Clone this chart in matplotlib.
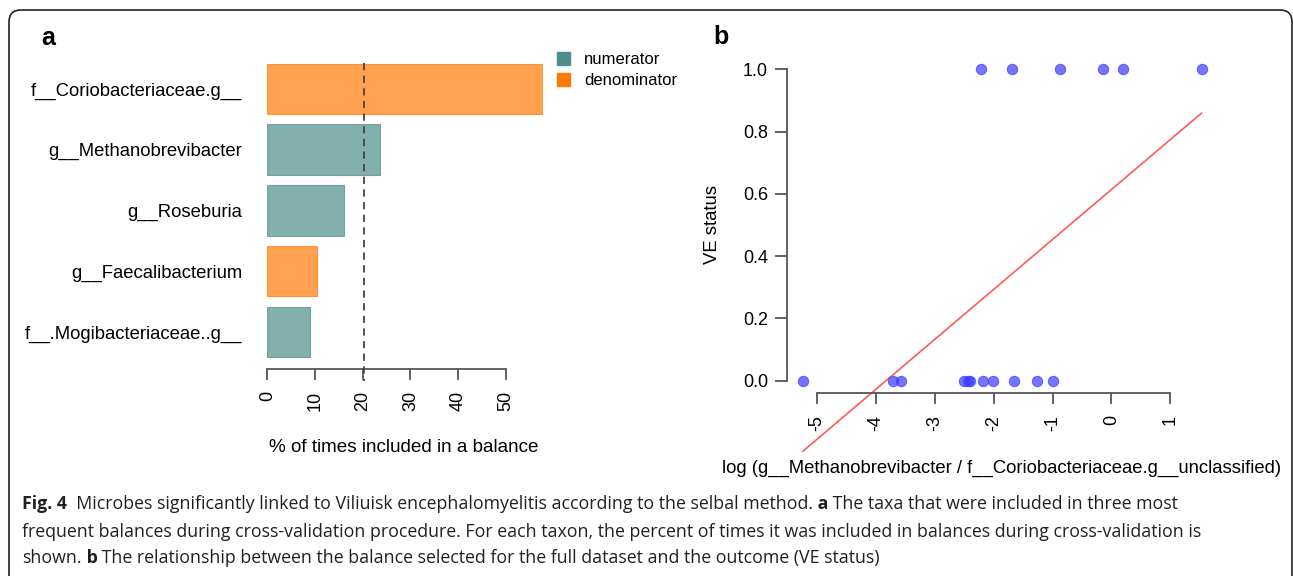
import matplotlib
matplotlib.use('Agg')
import matplotlib.pyplot as plt
import numpy as np
from matplotlib.patches import Patch, FancyBboxPatch
from matplotlib.transforms import IdentityTransform

plt.rcParams['font.family'] = ['Liberation Sans', 'DejaVu Sans']
plt.rcParams['axes.unicode_minus'] = False

# panel a: taxa included in the most frequent balances
taxa = ['f__Coriobacteriaceae.g__', 'g__Methanobrevibacter', 'g__Roseburia',
        'g__Faecalibacterium', 'f__.Mogibacteriaceae..g__']
pct = [57.7, 23.7, 16.1, 10.5, 9.0]
side = ['denominator', 'numerator', 'numerator', 'denominator', 'numerator']
cutoff = 20.2
a_ticks = [0, 10, 20, 30, 40, 50]

# panel b: balance vs VE status
x_case = [-2.21, -1.69, -0.88, -0.145, 0.196, 1.53]
x_ctrl = [-5.24, -3.71, -3.58, -2.51, -2.44, -2.41, -2.18, -2.01, -1.65, -1.27, -1.00]
fit_x = [-5.24, 1.53]
fit_y = [-0.227, 0.859]
b_xticks = [-5, -4, -3, -2, -1, 0, 1]
b_yticks = [0.0, 0.2, 0.4, 0.6, 0.8, 1.0]

colors = {'numerator': '#4F8D8B', 'denominator': '#FF7A05'}
axis_col = '#555555'
W, H = 1293, 576

fig = plt.figure(figsize=(W / 100, H / 100), dpi=100)


def fx(px):
    return px / W


def fy(py):
    return 1 - py / H


# ---- panel a
ax_a = fig.add_axes([fx(267.4), fy(368.7), fx(275.1), (368.7 - 63.3) / H])
pos = np.arange(len(taxa))
ax_a.barh(pos, pct, height=0.833, color=[colors[s] for s in side], alpha=0.7,
          edgecolor=[colors[s] for s in side], linewidth=0.8)
ax_a.plot([cutoff, cutoff], [-0.42, 4.8], ls=(0, (4, 3)), color='#444444', lw=1.3,
          clip_on=False, zorder=3)
ax_a.set_xlim(0, 57.7)
ax_a.set_ylim(4.605, -0.42)
for s in ['top', 'right', 'left']:
    ax_a.spines[s].set_visible(False)
ax_a.spines['bottom'].set_bounds(0, 50)
ax_a.spines['bottom'].set_color(axis_col)
ax_a.spines['bottom'].set_linewidth(1.3)
ax_a.set_xticks(a_ticks)
ax_a.tick_params(axis='x', length=8, width=1.3, color=axis_col, pad=8,
                 labelsize=13, labelrotation=90)
ax_a.set_yticks(pos)
ax_a.set_yticklabels(taxa, fontsize=13.3)
ax_a.tick_params(axis='y', length=0, pad=18)
fig.text(fx(404), fy(447), '% of times included in a balance', fontsize=13.6,
         ha='center', va='center')

fig.legend([Patch(color=colors['numerator']), Patch(color=colors['denominator'])],
           ['numerator', 'denominator'], loc='upper left',
           bbox_to_anchor=(fx(557), fy(52)), frameon=False, fontsize=12,
           handlelength=0.78, handleheight=0.78, handletextpad=0.84,
           borderpad=0, borderaxespad=0, labelspacing=0.38)

# ---- panel b
ax_b = fig.add_axes([fx(787), fy(393), fx(1217.4 - 787), (393 - 56.8) / H])
ax_b.scatter(x_case, np.ones(len(x_case)), s=55, color='#3B3BFF', alpha=0.7,
             linewidths=0.8, clip_on=False, zorder=3)
ax_b.scatter(x_ctrl, np.zeros(len(x_ctrl)), s=55, color='#3B3BFF', alpha=0.7,
             linewidths=0.8, clip_on=False, zorder=3)
ax_b.plot(fit_x, fit_y, color='#FF5A5A', lw=1.2, clip_on=False)
ax_b.set_xlim(-5.51, 1.80)
ax_b.set_ylim(-0.04, 1.04)
for s in ['top', 'right']:
    ax_b.spines[s].set_visible(False)
ax_b.spines['bottom'].set_bounds(-5, 1)
ax_b.spines['left'].set_bounds(0, 1)
for s in ['bottom', 'left']:
    ax_b.spines[s].set_color(axis_col)
    ax_b.spines[s].set_linewidth(1.3)
ax_b.set_xticks(b_xticks)
ax_b.set_yticks(b_yticks)
ax_b.set_yticklabels([f'{v:.1f}' for v in b_yticks])
ax_b.tick_params(axis='x', length=8, width=1.3, color=axis_col, pad=8,
                 labelsize=13, labelrotation=90)
ax_b.tick_params(axis='y', length=8.6, width=1.3, color=axis_col, pad=5,
                 labelsize=13)
fig.text(fx(712), fy(225), 'VE status', fontsize=13.3, rotation=90,
         ha='center', va='center')
fig.text(fx(1002), fy(468),
         'log (g__Methanobrevibacter / f__Coriobacteriaceae.g__unclassified)',
         fontsize=13.3, ha='center', va='center')

# panel letters
fig.text(fx(48), fy(38), 'a', fontsize=18, fontweight='bold', ha='center', va='center')
fig.text(fx(721), fy(37), 'b', fontsize=18, fontweight='bold', ha='center', va='center')

# ---- caption
cap_font = ['Open Sans', 'DejaVu Sans']
cap_lines = [
    [('Fig. 4', 'bold'),
     ('  Microbes significantly linked to Viliuisk encephalomyelitis according '
      'to the selbal method.', 'normal'),
     (' a', 'bold'),
     (' The taxa that were included in three most', 'normal')],
    [('frequent balances during cross-validation procedure. For each taxon, the '
      'percent of times it was included in balances during cross-validation is',
      'normal')],
    [('shown.', 'normal'), (' b', 'bold'),
     (' The relationship between the balance selected for the full dataset and '
      'the outcome (VE status)', 'normal')],
]
cap_base = [509, 537, 563]
renderer = fig.canvas.get_renderer()
for parts, yb in zip(cap_lines, cap_base):
    x = fx(22)
    for s, weight in parts:
        t = fig.text(x, fy(yb), s, fontsize=12.8, fontweight=weight,
                     family=cap_font, va='baseline', ha='left', color='#231f20')
        x += t.get_window_extent(renderer).width / W

# rounded frame around the figure
frame = FancyBboxPatch((9, -30), 1283, 596, boxstyle='round,pad=0,rounding_size=12',
                       transform=IdentityTransform(), fill=False,
                       edgecolor='#222222', linewidth=1.2)
fig.add_artist(frame)

fig.savefig('out.png', dpi=100)
